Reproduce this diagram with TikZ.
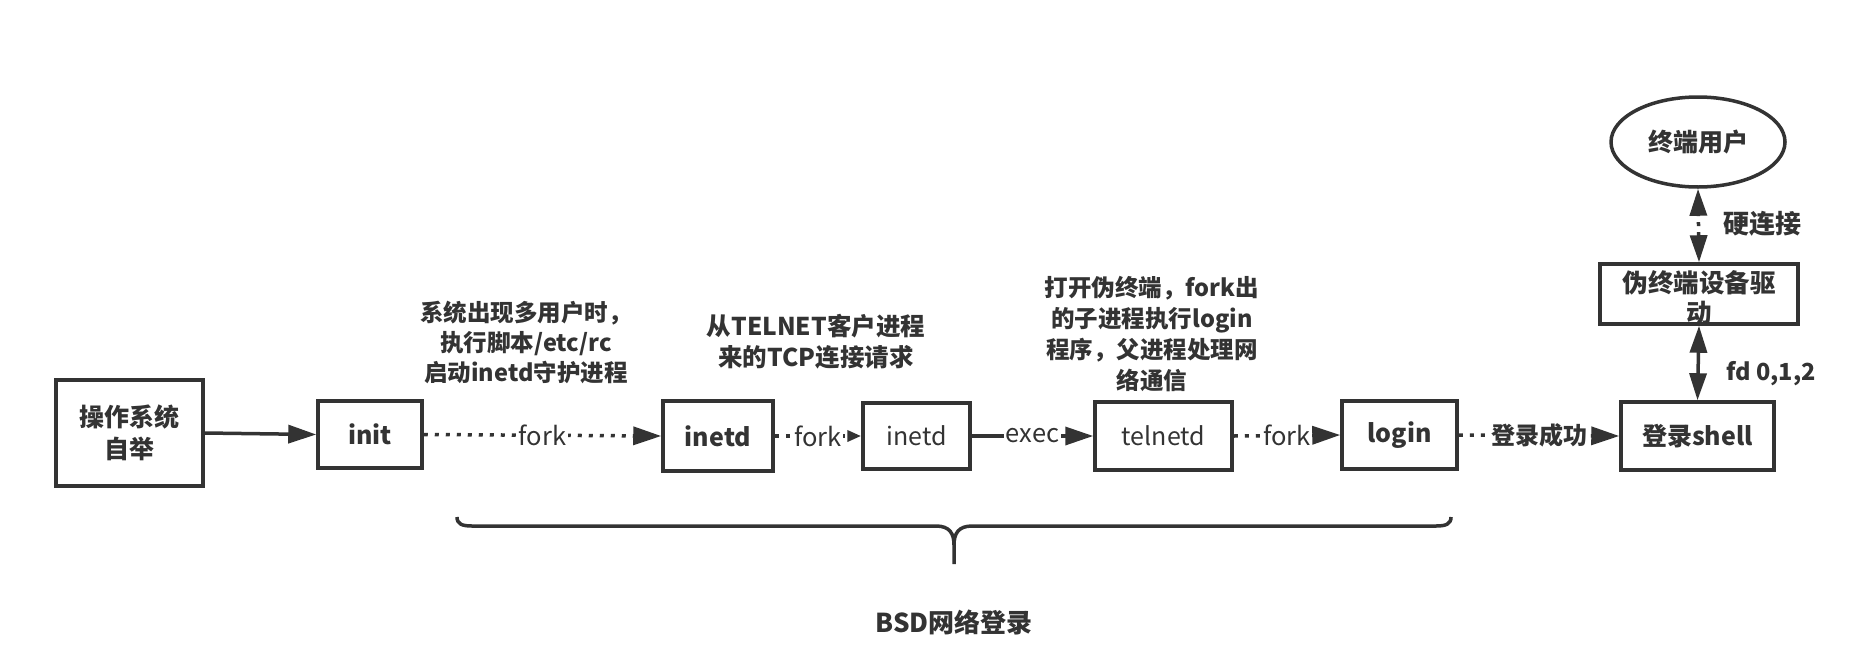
\documentclass[tikz,border=0pt]{standalone}
\usepackage{fontspec}
\setmainfont{Noto Sans CJK SC}
\usetikzlibrary{arrows.meta,shapes.geometric}
\definecolor{ink}{HTML}{333333}
\begin{document}
\begin{tikzpicture}[x=1pt,y=-1pt,
  every node/.style={text=ink},
  box/.style={draw=ink, line width=3.5pt, inner sep=0pt, font=\fontsize{25}{32}\selectfont},
  bbox/.style={box, font=\bfseries\fontsize{25}{32}\selectfont},
  anno/.style={align=center, font=\bfseries\fontsize{23.5}{31}\selectfont},
  elabel/.style={fill=white, inner sep=1.5pt, font=\fontsize{25.5}{30}\selectfont},
  bighead/.style={-{Triangle[length=28pt,width=18pt]}},
  conn/.style={draw=ink, line width=3.5pt, bighead},
  dotline/.style={conn, dash pattern=on 4pt off 7pt},
  smallhead/.style={-{Triangle[length=14pt,width=11pt]}},
  both/.style={{Triangle[length=27pt,width=17pt]}-{Triangle[length=27pt,width=17pt]}},
  bracepath/.style={draw=ink, line width=3.5pt}
]
\useasboundingbox (0,0) rectangle (1876,656);

% nodes
\node[bbox, minimum width=147pt, minimum height=106pt, align=center] (os) at (129.5,433) {操作系统\\自举};
\node[bbox, minimum width=104pt, minimum height=67pt] (init) at (370,434.5) {init};
\node[bbox, minimum width=110pt, minimum height=70pt] (inetdA) at (718,436) {inetd};
\node[box, minimum width=107pt, minimum height=66pt] (inetdB) at (916.5,436) {inetd};
\node[box, minimum width=137pt, minimum height=68pt] (telnetd) at (1163.5,436) {telnetd};
\node[bbox, minimum width=115pt, minimum height=68pt] (login) at (1399.5,435) {login};
\node[bbox, minimum width=153pt, minimum height=68pt] (shell) at (1697.5,436) {登录shell};
\node[box, minimum width=198pt, minimum height=60pt] (pty) at (1699,294) {};
\node[align=center, font=\bfseries\fontsize{25.5}{30}\selectfont] (ptytext) at (1699,298) {伪终端设备驱\\动};
\node[draw=ink, line width=3.5pt, ellipse, minimum width=174pt, minimum height=90pt, inner sep=0pt, font=\bfseries\fontsize{25}{30}\selectfont] (user) at (1698,142) {终端用户};

% annotations
\node[anno, font=\bfseries\fontsize{23.5}{30}\selectfont] (a1) at (526,342) {系统出现多用户时，\\ 执行脚本/etc/rc\\启动inetd守护进程};
\node[anno, font=\bfseries\fontsize{24.5}{31}\selectfont] (a2) at (816,342) {从TELNET客户进程\\来的TCP连接请求};
\node[anno, font=\bfseries\fontsize{23.5}{31}\selectfont] (a3) at (1152,334) {打开伪终端，fork出\\的子进程执行login\\程序，父进程处理网\\络通信};
\node[anno, font=\bfseries\fontsize{26}{30}\selectfont] (hard) at (1762,224) {硬连接};
\node[anno] (fd) at (1771,374) {fd 0,1,2};
\node[anno, font=\bfseries\fontsize{26}{30}\selectfont] (bsd) at (954,622) {BSD网络登录};

% connectors
\draw[conn] (os.east) -- (init.west);
\draw[dotline] (init.east) -- node[elabel]{fork} (inetdA.west);
\draw[dotline, smallhead] (inetdA.east) -- node[elabel]{fork} (inetdB.west);
\draw[conn] (inetdB.east) -- node[elabel]{exec} (telnetd.west);
\draw[dotline] (telnetd.east) -- node[elabel]{fork} (login.west);
\draw[dotline] (login.east) -- node[elabel, font=\bfseries\fontsize{24}{30}\selectfont]{登录成功} (shell.west);
\draw[conn, both] (shell.north) -- (pty.south);
\draw[conn, both, dash pattern=on 4pt off 6pt] (pty.north) -- (user.south);

% brace
\coordinate (bl) at (457,517);
\coordinate (bt) at (954,564);
\coordinate (br) at (1451,517);
\path[bracepath] (bl) .. controls (457,524) and (462,526) .. (472,526) -- (936,526)
  .. controls (950,526) and (954,534) .. (954,545) -- (bt)
  (bt) -- (954,545) .. controls (954,534) and (958,526) .. (972,526) -- (1436,526)
  .. controls (1446,526) and (1451,524) .. (br);
\end{tikzpicture}
\end{document}
